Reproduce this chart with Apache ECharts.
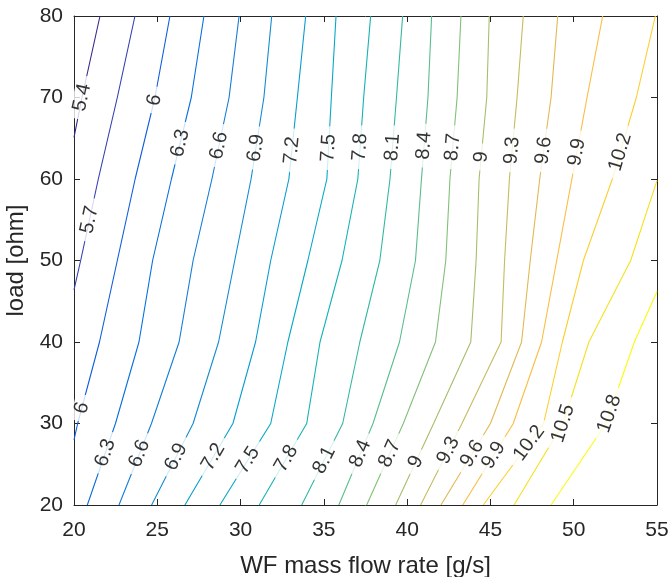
<!DOCTYPE html>
<html>
<head>
<meta charset="utf-8">
<script src="https://cdn.jsdelivr.net/npm/echarts@6/dist/echarts.min.js"></script>
<style>
  html, body { margin: 0; padding: 0; background: #fff; }
  #main { width: 671px; height: 577px; }
</style>
</head>
<body>
<div id="main"></div>
<script>
// contour levels (output)
var levels = [5.4, 5.7, 6, 6.3, 6.6, 6.9, 7.2, 7.5, 7.8, 8.1, 8.4, 8.7, 9, 9.3, 9.6, 9.9, 10.2, 10.5, 10.8];

// one polyline per level: [flow rate g/s, load ohm], top to bottom
var contourLines = [
    [[21.56, 80], [20.48, 70], [20, 65.1]],
    [[23.66, 80], [22.60, 70], [21.46, 60], [20.40, 50], [20, 46.4]],
    [[25.76, 80], [24.86, 70], [23.67, 60], [22.60, 50], [21.53, 40], [20.22, 30], [20, 28.0]],
    [[27.80, 80], [27.04, 70], [25.85, 60], [24.72, 50], [23.90, 40], [22.49, 30], [20.80, 20]],
    [[29.91, 80], [29.31, 70], [28.28, 60], [27.15, 50], [26.31, 40], [24.65, 30], [22.70, 20]],
    [[31.87, 80], [31.40, 70], [30.63, 60], [29.65, 50], [28.68, 40], [27.15, 30], [24.66, 20]],
    [[33.91, 80], [33.41, 70], [32.90, 60], [31.81, 50], [30.90, 40], [29.54, 30], [26.66, 20]],
    [[35.73, 80], [35.45, 70], [35.18, 60], [34.04, 50], [32.84, 40], [31.81, 30], [28.76, 20]],
    [[37.81, 80], [37.39, 70], [37.04, 60], [36.09, 50], [34.77, 40], [33.97, 30], [31.12, 20]],
    [[39.73, 80], [39.36, 70], [38.97, 60], [38.36, 50], [37.16, 40], [36.13, 30], [33.67, 20]],
    [[41.47, 80], [41.25, 70], [40.86, 60], [40.50, 50], [39.54, 40], [37.95, 30], [35.90, 20]],
    [[43.23, 80], [43.00, 70], [42.57, 60], [42.32, 50], [41.70, 40], [39.77, 30], [37.57, 20]],
    [[44.93, 80], [44.78, 70], [44.32, 60], [44.14, 50], [43.82, 40], [41.59, 30], [39.31, 20]],
    [[46.97, 80], [46.60, 70], [46.14, 60], [45.85, 50], [45.64, 40], [43.29, 30], [40.81, 20]],
    [[49.04, 80], [48.64, 70], [47.96, 60], [47.39, 50], [46.87, 40], [45.00, 30], [42.03, 20]],
    [[51.74, 80], [50.80, 70], [49.89, 60], [48.98, 50], [48.07, 40], [46.37, 30], [43.34, 20]],
    [[54.90, 80], [53.76, 70], [52.32, 60], [50.58, 50], [49.32, 40], [48.19, 30], [44.57, 20]],
    [[55, 59.8], [53.42, 50], [50.91, 40], [49.36, 30], [46.42, 20]],
    [[55, 46.2], [53.64, 40], [51.94, 30], [48.64, 20]]
];

// load value where each level carries its label (null = no label)
var upperLabelY = [70.0, 55.0, 69.7, 64.4, 64.1, 63.8, 63.5, 63.8, 63.9, 63.9, 64.1, 63.9, 62.7, 63.5, 63.5, 63.3, 63.3, null, null];
var lowerLabelY = [null, null, 31.9, 26.4, 26.3, 25.9, 25.9, 25.5, 25.7, 25.5, 26.3, 26.3, 25.3, 26.7, 26.3, 26.1, 27.6, 30.0, 31.2];

var xTicks = [20, 55, 5];
var yTicks = [20, 80, 10];

// parula, sampled at the 19 levels
var lineColors = ['#352a87', '#3340b3', '#0f5cdd', '#066fdf', '#127dd8', '#128bd2', '#079ccf',
    '#06a8c4', '#15b1b4', '#33b8a1', '#59bd8b', '#82bf79', '#a5be6b', '#c4bc5e', '#e1b952',
    '#fbbc41', '#fcce2e', '#f5e11f', '#f9fb0e'];

var FONT = 'Liberation Sans, Arial, Helvetica, sans-serif';
var INK = '#262626';

// find the segment of a polyline holding y, return x there
function pointAt(pts, y) {
    for (var i = 0; i < pts.length - 1; i++) {
        var y1 = pts[i][1], y2 = pts[i + 1][1];
        if ((y <= y1 && y >= y2) || (y >= y1 && y <= y2)) {
            var t = (y - y1) / (y2 - y1);
            return { x: pts[i][0] + t * (pts[i + 1][0] - pts[i][0]), seg: i };
        }
    }
    return null;
}

var dom = document.getElementById('main');
var myChart = echarts.init(dom, null, { renderer: 'canvas' });

function buildLabels(angleOf) {
    var out = [];
    levels.forEach(function (lv, k) {
        [upperLabelY[k], lowerLabelY[k]].forEach(function (ly) {
            if (ly == null) return;
            var p = pointAt(contourLines[k], ly);
            if (!p) return;
            out.push({
                value: [p.x, ly, lv],
                label: { rotate: angleOf ? angleOf(k, p.seg) : 70 }
            });
        });
    });
    return out;
}

var lineSeries = levels.map(function (lv, k) {
    return {
        name: String(lv),
        type: 'line',
        data: contourLines[k],
        showSymbol: false,
        symbol: 'none',
        silent: true,
        animation: false,
        lineStyle: { color: lineColors[k], width: 1.1 },
        z: 2
    };
});

var labelSeries = {
    type: 'scatter',
    data: buildLabels(null),
    symbolSize: 1,
    itemStyle: { color: 'rgba(0,0,0,0)' },
    silent: true,
    animation: false,
    z: 5,
    label: {
        show: true,
        position: 'inside',
        formatter: function (p) { return String(p.value[2]); },
        fontFamily: FONT,
        fontSize: 20,
        color: '#000',
        backgroundColor: '#fff',
        padding: [0, 8],
        lineHeight: 18
    }
};

var axisCommon = {
    axisLine: { show: true, onZero: false, lineStyle: { color: INK, width: 1 } },
    axisTick: { show: true, inside: true, length: 6, lineStyle: { color: INK } },
    splitLine: { show: false }
};

myChart.setOption({
    animation: false,
    backgroundColor: '#fff',
    grid: { left: 74, right: 14, top: 16, bottom: 72, containLabel: false, outerBoundsMode: 'none' },
    xAxis: [
        Object.assign({
            type: 'value', min: xTicks[0], max: xTicks[1], interval: xTicks[2], position: 'bottom',
            name: 'WF mass flow rate [g/s]', nameLocation: 'middle', nameGap: 49,
            nameTextStyle: { fontFamily: FONT, fontSize: 24, color: INK },
            axisLabel: { fontFamily: FONT, fontSize: 21, color: INK, margin: 15 }
        }, axisCommon),
        Object.assign({
            type: 'value', min: xTicks[0], max: xTicks[1], interval: xTicks[2], position: 'top',
            axisLabel: { show: false }
        }, axisCommon)
    ],
    yAxis: [
        Object.assign({
            type: 'value', min: yTicks[0], max: yTicks[1], interval: yTicks[2], position: 'left',
            name: 'load [ohm]', nameLocation: 'middle', nameGap: 44,
            nameTextStyle: { fontFamily: FONT, fontSize: 24, color: INK },
            axisLabel: { fontFamily: FONT, fontSize: 21, color: INK, margin: 11 }
        }, axisCommon),
        Object.assign({
            type: 'value', min: yTicks[0], max: yTicks[1], interval: yTicks[2], position: 'right',
            axisLabel: { show: false }
        }, axisCommon)
    ],
    series: lineSeries.concat([labelSeries])
});

// rotate each label along its line, measured in pixels
function angleOf(k, seg) {
    var pts = contourLines[k];
    var a = myChart.convertToPixel({ gridIndex: 0 }, pts[seg]);
    var b = myChart.convertToPixel({ gridIndex: 0 }, pts[seg + 1]);
    var up = a[1] < b[1] ? [a, b] : [b, a];
    var dx = up[0][0] - up[1][0];
    var dy = up[1][1] - up[0][1];
    return Math.atan2(dy, dx) * 180 / Math.PI;
}

myChart.setOption({
    series: lineSeries.concat([Object.assign({}, labelSeries, { data: buildLabels(angleOf) })])
});

window.addEventListener('resize', function () {
    myChart.resize();
});
</script>
</body>
</html>
